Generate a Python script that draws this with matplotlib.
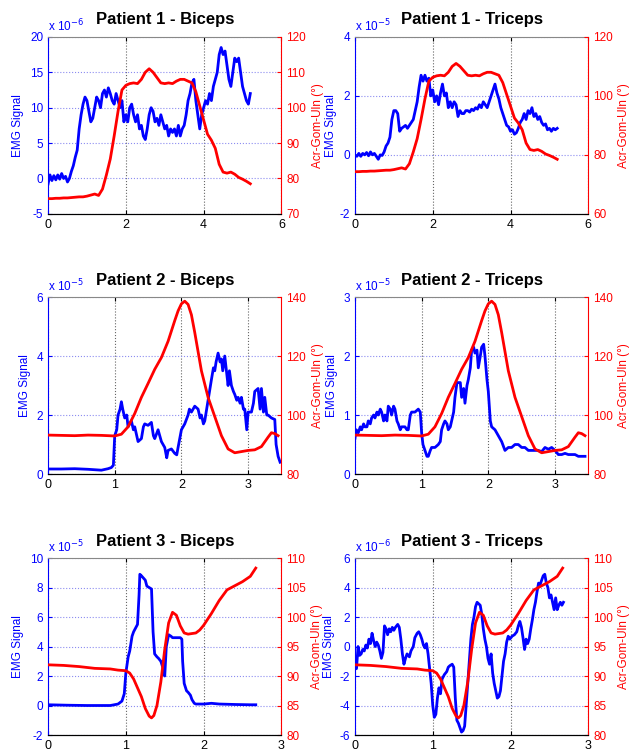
import numpy as np
import matplotlib.pyplot as plt

plt.rcParams['font.family'] = ['Liberation Sans', 'DejaVu Sans']
plt.rcParams['axes.unicode_minus'] = False

# ---- Patient 1 (time 0..5.2 s) ----
p1_emg_t = np.linspace(0, 5.2, 105)
p1_bi_emg = [-0.8, 0.5, -0.3, 0.4, -0.2, 0.5, -0.1, 0.7, 0.0, 0.3,
             -0.5, 0.0, 1.0, 1.8, 3.0, 4.0, 7.0, 9.0, 10.5, 11.5,
             11.0, 9.5, 8.0, 8.5, 10.0, 11.5, 11.0, 10.0, 12.0, 12.5,
             11.5, 12.8, 12.0, 11.0, 10.5, 12.0, 11.0, 10.0, 11.0, 8.0,
             9.0, 8.0, 10.0, 10.5, 9.0, 8.0, 9.0, 7.0, 7.5, 6.0,
             5.5, 7.0, 9.0, 10.0, 9.5, 8.0, 8.5, 7.5, 9.0, 8.0,
             7.0, 7.5, 6.0, 7.0, 6.5, 7.0, 6.0, 7.5, 6.0, 7.0,
             7.5, 9.0, 11.0, 12.0, 13.5, 14.0, 11.0, 9.0, 7.0, 9.0,
             10.0, 11.0, 10.5, 12.0, 11.0, 13.0, 14.0, 15.0, 17.5, 18.5,
             17.5, 18.0, 16.0, 14.0, 13.0, 15.0, 17.0, 16.5, 17.0, 15.0,
             13.0, 12.0, 11.0, 10.5, 12.0]  # x 1e-6
p1_tri_emg = [0.0, -0.05, 0.05, -0.05, 0.05, 0.0, 0.08, -0.03, 0.1, 0.0,
              0.05, -0.05, -0.15, 0.0, -0.02, 0.1, 0.3, 0.4, 0.6, 1.2,
              1.5, 1.5, 1.4, 0.8, 0.9, 0.95, 1.0, 0.9, 1.0, 1.1,
              1.2, 1.5, 1.8, 2.3, 2.7, 2.5, 2.7, 2.5, 2.6, 2.0,
              2.2, 1.8, 2.0, 1.7, 2.1, 2.4, 2.0, 2.1, 1.6, 1.8,
              1.6, 1.8, 1.7, 1.3, 1.5, 1.4, 1.4, 1.5, 1.5, 1.45,
              1.55, 1.5, 1.6, 1.55, 1.7, 1.6, 1.8, 1.7, 1.6, 1.8,
              2.0, 2.2, 2.4, 2.1, 1.9, 1.6, 1.4, 1.2, 1.0, 0.95,
              0.8, 0.85, 0.7, 0.75, 0.9, 1.1, 1.2, 1.4, 1.2, 1.5,
              1.4, 1.6, 1.3, 1.4, 1.2, 1.3, 1.1, 1.0, 1.05, 0.85,
              0.9, 0.8, 0.9, 0.85, 0.9]  # x 1e-5
p1_ang_t = np.linspace(0, 5.2, 53)
p1_ang = [74.3, 74.3, 74.4, 74.4, 74.5, 74.5, 74.6, 74.7, 74.8, 74.8,
          75.0, 75.3, 75.6, 75.2, 77.0, 81.0, 85.5, 92.0, 99.0, 105.0,
          106.3, 106.8, 107.0, 106.8, 108.0, 110.0, 111.0, 110.0, 108.5, 107.0,
          106.8, 107.0, 106.8, 107.5, 108.0, 108.0, 107.5, 107.0, 104.5, 100.5,
          96.5, 92.5, 90.8, 88.5, 84.0, 81.8, 81.5, 81.8, 81.2, 80.3,
          79.8, 79.2, 78.5]

# ---- Patient 2 (time 0..3.45 s) ----
p2_bi_t = [0, 0.2, 0.4, 0.6, 0.8, 0.9, 0.95, 0.98, 1.0, 1.03,
           1.05, 1.08, 1.1, 1.12, 1.15, 1.18, 1.2, 1.25, 1.28, 1.3,
           1.33, 1.35, 1.4, 1.43, 1.45, 1.5, 1.55, 1.58, 1.6, 1.65,
           1.7, 1.75, 1.78, 1.8, 1.85, 1.9, 1.93, 1.95, 2.0, 2.05,
           2.1, 2.12, 2.15, 2.2, 2.25, 2.28, 2.3, 2.33, 2.35, 2.4,
           2.45, 2.48, 2.5, 2.52, 2.55, 2.58, 2.6, 2.62, 2.65, 2.68,
           2.7, 2.72, 2.75, 2.78, 2.8, 2.83, 2.85, 2.88, 2.9, 2.93,
           2.95, 2.98, 3.0, 3.05, 3.08, 3.1, 3.15, 3.18, 3.2, 3.23,
           3.25, 3.28, 3.3, 3.35, 3.4, 3.42, 3.45, 3.48]
p2_bi_emg = [0.17, 0.17, 0.18, 0.16, 0.13, 0.18, 0.22, 0.3, 1.3, 1.5,
             2.0, 2.2, 2.45, 2.2, 1.9, 2.0, 1.6, 1.8, 1.5, 1.6,
             1.3, 1.1, 1.2, 1.6, 1.7, 1.65, 1.75, 1.3, 1.2, 1.5,
             1.1, 0.9, 0.55, 0.8, 0.85, 0.7, 0.65, 0.9, 1.5, 1.7,
             2.0, 2.2, 2.1, 2.3, 2.2, 1.9, 2.0, 1.7, 1.8, 2.5,
             3.2, 3.6, 3.5, 3.8, 4.1, 3.8, 3.9, 3.5, 4.0, 3.4,
             3.0, 3.5, 3.0, 2.8, 2.7, 2.5, 2.6, 2.4, 2.6, 2.2,
             2.2, 1.5, 2.1, 2.1, 2.4, 2.8, 2.9, 2.2, 2.9, 2.1,
             2.6, 2.0, 2.0, 1.9, 1.85, 1.0, 0.6, 0.4]  # x 1e-5
p2_tri_t = [0, 0.02, 0.05, 0.08, 0.1, 0.13, 0.15, 0.18, 0.2, 0.23,
            0.25, 0.28, 0.3, 0.33, 0.35, 0.38, 0.4, 0.43, 0.45, 0.48,
            0.5, 0.53, 0.55, 0.58, 0.6, 0.63, 0.65, 0.68, 0.7, 0.75,
            0.78, 0.8, 0.83, 0.85, 0.9, 0.95, 0.98, 1.0, 1.02, 1.05,
            1.08, 1.1, 1.13, 1.15, 1.2, 1.25, 1.28, 1.3, 1.33, 1.35,
            1.38, 1.4, 1.43, 1.45, 1.48, 1.5, 1.53, 1.55, 1.58, 1.6,
            1.63, 1.65, 1.68, 1.7, 1.73, 1.75, 1.78, 1.8, 1.83, 1.85,
            1.88, 1.9, 1.93, 1.95, 1.98, 2.0, 2.03, 2.05, 2.1, 2.15,
            2.2, 2.25, 2.3, 2.35, 2.4, 2.45, 2.5, 2.55, 2.6, 2.65,
            2.7, 2.75, 2.8, 2.85, 2.9, 2.95, 3.0, 3.05, 3.1, 3.15,
            3.2, 3.25, 3.3, 3.35, 3.4, 3.45]
p2_tri_emg = [0.6, 0.75, 0.7, 0.8, 0.75, 0.85, 0.8, 0.8, 0.9, 0.85,
              0.95, 1.0, 0.95, 1.05, 1.0, 1.1, 1.05, 0.9, 1.0, 0.9,
              1.15, 1.1, 1.0, 1.15, 1.1, 0.9, 0.85, 0.75, 0.8, 0.8,
              0.75, 0.75, 1.0, 1.05, 1.05, 1.1, 1.05, 0.7, 0.5, 0.4,
              0.3, 0.3, 0.4, 0.45, 0.45, 0.5, 0.55, 0.75, 0.85, 0.9,
              0.85, 0.75, 0.8, 0.9, 1.05, 1.3, 1.55, 1.55, 1.55, 1.3,
              1.45, 1.2, 1.5, 1.6, 1.8, 2.1, 2.15, 2.05, 2.1, 1.8,
              2.0, 2.15, 2.2, 2.0, 1.6, 1.4, 0.9, 0.8, 0.75, 0.65,
              0.55, 0.4, 0.45, 0.45, 0.5, 0.5, 0.45, 0.45, 0.4, 0.4,
              0.4, 0.4, 0.38, 0.45, 0.42, 0.45, 0.4, 0.33, 0.33, 0.35,
              0.33, 0.33, 0.33, 0.3, 0.3, 0.3]  # x 1e-5
p2_ang_t = [0, 0.2, 0.4, 0.6, 0.8, 1.0, 1.1, 1.2, 1.3, 1.4,
            1.5, 1.6, 1.7, 1.8, 1.9, 1.95, 2.0, 2.05, 2.1, 2.15,
            2.2, 2.3, 2.4, 2.5, 2.6, 2.7, 2.8, 2.9, 3.0, 3.1,
            3.2, 3.3, 3.35, 3.4, 3.45]
p2_ang = [93.2, 93.1, 93.0, 93.2, 93.1, 92.9, 93.5, 96.0, 100.5, 106.0,
          110.7, 115.5, 119.5, 125.0, 132.0, 135.3, 137.7, 138.6, 137.5, 134.0,
          128.0, 115.0, 106.0, 99.5, 93.0, 88.5, 87.2, 87.6, 88.0, 88.2,
          89.3, 92.5, 94.0, 93.7, 93.0]

# ---- Patient 3 (time 0..2.68 s) ----
p3_bi_t = [0, 0.25, 0.5, 0.8, 0.9, 0.95, 0.98, 1.0, 1.03, 1.05,
           1.08, 1.1, 1.13, 1.15, 1.17, 1.18, 1.2, 1.25, 1.27, 1.3,
           1.33, 1.35, 1.37, 1.4, 1.42, 1.45, 1.48, 1.5, 1.52, 1.55,
           1.58, 1.6, 1.7, 1.72, 1.73, 1.75, 1.78, 1.8, 1.83, 1.85,
           1.88, 1.9, 2.0, 2.1, 2.2, 2.4, 2.6, 2.67]
p3_bi_emg = [0.05, 0.02, 0.0, 0.0, 0.1, 0.3, 0.8, 2.2, 3.3, 3.7,
             4.7, 5.0, 5.3, 5.5, 7.5, 8.9, 8.8, 8.5, 8.1, 8.0,
             7.9, 5.0, 3.5, 3.3, 3.2, 3.0, 2.5, 2.0, 4.0, 4.8,
             4.7, 4.6, 4.6, 4.5, 3.0, 1.5, 1.0, 0.9, 0.7, 0.4,
             0.15, 0.1, 0.1, 0.15, 0.1, 0.07, 0.05, 0.05]  # x 1e-5
p3_tri_t = [0, 0.02, 0.04, 0.06, 0.08, 0.1, 0.12, 0.14, 0.16, 0.18,
            0.2, 0.22, 0.24, 0.26, 0.28, 0.3, 0.32, 0.34, 0.36, 0.38,
            0.4, 0.42, 0.44, 0.46, 0.48, 0.5, 0.52, 0.55, 0.57, 0.59,
            0.61, 0.63, 0.65, 0.67, 0.7, 0.72, 0.75, 0.77, 0.8, 0.82,
            0.84, 0.86, 0.88, 0.9, 0.92, 0.94, 0.96, 0.98, 1.0, 1.02,
            1.04, 1.06, 1.08, 1.1, 1.12, 1.15, 1.18, 1.2, 1.22, 1.25,
            1.27, 1.29, 1.31, 1.33, 1.35, 1.37, 1.39, 1.41, 1.43, 1.45,
            1.47, 1.49, 1.51, 1.53, 1.55, 1.57, 1.59, 1.61, 1.63, 1.65,
            1.67, 1.69, 1.71, 1.73, 1.75, 1.77, 1.79, 1.81, 1.83, 1.85,
            1.87, 1.89, 1.91, 1.93, 1.95, 1.97, 1.99, 2.02, 2.05, 2.08,
            2.1, 2.12, 2.14, 2.16, 2.18, 2.2, 2.22, 2.24, 2.26, 2.28,
            2.3, 2.32, 2.34, 2.36, 2.38, 2.4, 2.42, 2.44, 2.46, 2.48,
            2.5, 2.52, 2.54, 2.56, 2.58, 2.6, 2.62, 2.64, 2.66, 2.68]
p3_tri_emg = [-1.4, -1.5, 0.0, -0.6, -0.5, -0.2, -0.3, 0.1, -0.1, 0.5,
              0.2, 0.9, 0.4, 0.0, 0.3, 0.1, -0.3, -0.8, -0.4, 1.4,
              1.2, 0.8, 1.2, 1.0, 1.3, 1.1, 1.3, 1.5, 1.3, 0.5,
              -0.5, -1.2, -0.8, -0.5, -0.7, -0.3, 0.0, 0.6, 0.9, 1.0,
              0.8, 0.5, 0.1, -0.1, 0.2, -0.5, -1.5, -2.5, -4.0, -4.8,
              -4.6, -3.5, -2.8, -3.2, -2.2, -1.9, -1.7, -1.4, -1.3, -1.2,
              -1.4, -3.5, -5.0, -5.2, -5.5, -5.8, -5.7, -5.4, -4.0, -2.5,
              -1.0, 0.5, 1.5, 2.0, 2.7, 3.0, 2.9, 2.8, 2.2, 1.2,
              0.5, 0.0, -0.8, -1.2, -0.5, -1.8, -2.5, -3.0, -3.5, -3.4,
              -3.0, -2.0, -1.0, -0.5, 0.3, 0.7, 0.5, 0.7, 0.8, 1.0,
              1.4, 1.7, 1.3, 0.6, -0.2, 0.5, 0.2, 0.5, 1.2, 1.8,
              2.5, 3.0, 3.7, 4.3, 4.2, 4.5, 4.8, 4.9, 4.3, 4.0,
              3.3, 3.5, 3.0, 2.5, 3.3, 2.5, 2.8, 3.0, 2.8, 3.0]  # x 1e-6
p3_ang_t = [0, 0.2, 0.4, 0.6, 0.8, 0.9, 1.0, 1.05, 1.1, 1.15,
            1.2, 1.25, 1.3, 1.33, 1.36, 1.4, 1.45, 1.5, 1.55, 1.6,
            1.65, 1.7, 1.75, 1.8, 1.9, 1.95, 2.0, 2.1, 2.2, 2.3,
            2.4, 2.5, 2.6, 2.67]
p3_ang = [91.9, 91.8, 91.6, 91.3, 91.2, 91.0, 90.9, 90.5, 89.5, 88.0,
          86.5, 84.5, 83.2, 82.9, 83.3, 85.0, 89.0, 94.5, 99.0, 100.8,
          100.3, 98.5, 97.3, 97.1, 97.3, 97.8, 98.6, 100.6, 102.8, 104.6,
          105.3, 106.0, 106.9, 108.3]

titles = ['Patient 1 - Biceps', 'Patient 1 - Triceps',
          'Patient 2 - Biceps', 'Patient 2 - Triceps',
          'Patient 3 - Biceps', 'Patient 3 - Triceps']
emg_t = [p1_emg_t, p1_emg_t, p2_bi_t, p2_tri_t, p3_bi_t, p3_tri_t]
emg = [p1_bi_emg, p1_tri_emg, p2_bi_emg, p2_tri_emg, p3_bi_emg, p3_tri_emg]
ang_t = [p1_ang_t, p1_ang_t, p2_ang_t, p2_ang_t, p3_ang_t, p3_ang_t]
ang = [p1_ang, p1_ang, p2_ang, p2_ang, p3_ang, p3_ang]
exponents = [-6, -5, -5, -5, -5, -6]
emg_ticks = [[-5, 0, 5, 10, 15, 20], [-2, 0, 2, 4], [0, 2, 4, 6],
             [0, 1, 2, 3], [-2, 0, 2, 4, 6, 8, 10], [-6, -4, -2, 0, 2, 4, 6]]
ang_ticks = [[70, 80, 90, 100, 110, 120], [60, 80, 100, 120], [80, 100, 120, 140],
             [80, 100, 120, 140], [80, 85, 90, 95, 100, 105, 110],
             [80, 85, 90, 95, 100, 105, 110]]
x_ticks = [[0, 2, 4, 6], [0, 2, 4, 6], [0, 1, 2, 3], [0, 1, 2, 3],
           [0, 1, 2, 3], [0, 1, 2, 3]]
x_max = [6, 6, 3.5, 3.5, 3, 3]

fig = plt.figure(figsize=(6.43, 7.53), dpi=100)
lefts = [0.0747, 0.552]
bottoms = [0.716, 0.3705, 0.0239]
# ylabel x positions (axes fraction), as placed in the original
emg_label_x = [-0.103, -0.077, -0.073, -0.073, -0.103, -0.086]
ang_label_x = [1.132, 1.129, 1.132, 1.129, 1.128, 1.129]

for i in range(6):
    ax = fig.add_axes([lefts[i % 2], bottoms[i // 2], 0.363, 0.235])
    ax.plot(emg_t[i], emg[i], color='blue', lw=2)
    ax.set_xlim(0, x_max[i])
    ax.set_ylim(emg_ticks[i][0], emg_ticks[i][-1])
    ax.set_xticks(x_ticks[i])
    ax.set_yticks(emg_ticks[i])
    ax.grid(axis='y', linestyle=':', color='#8c8cf0', lw=0.8)
    ax.grid(axis='x', linestyle=':', color='#666666', lw=0.8)
    ax.tick_params(axis='y', colors='blue', direction='in', length=3, labelsize=8.5)
    ax.tick_params(axis='x', direction='in', length=3, labelsize=9, top=True)
    ax.spines['left'].set_color('blue')
    ax.spines['right'].set_visible(False)
    ax.spines['top'].set_color('#888888')
    ax.set_ylabel('EMG Signal', color='blue', fontsize=8.5)
    ax.yaxis.set_label_coords(emg_label_x[i], 0.5)
    ax.set_title(titles[i], fontsize=12, fontweight='bold', pad=9)
    ax.text(0, 1.015, 'x 10$^{%d}$' % exponents[i], transform=ax.transAxes,
            color='blue', fontsize=8.5, va='bottom', ha='left')

    ax2 = ax.twinx()
    ax2.plot(ang_t[i], ang[i], color='red', lw=2)
    ax2.set_ylim(ang_ticks[i][0], ang_ticks[i][-1])
    ax2.set_yticks(ang_ticks[i])
    ax2.tick_params(axis='y', colors='red', direction='in', length=3, labelsize=8.5)
    ax2.spines['right'].set_color('red')
    ax2.spines['left'].set_visible(False)
    ax2.spines['top'].set_visible(False)
    ax2.set_ylabel('Acr-Gom-Uln (°)', color='red', fontsize=8.5)
    ax2.yaxis.set_label_coords(ang_label_x[i], 0.5)

fig.savefig('out.png', dpi=100)
